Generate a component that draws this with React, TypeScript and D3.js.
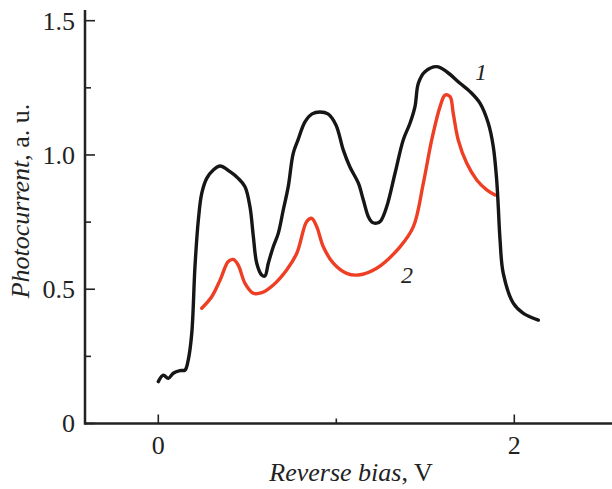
import React from "react";
import * as d3 from "d3";

const curve1X = [0, 0.028, 0.056, 0.084, 0.122, 0.15, 0.168, 0.188, 0.206, 0.225, 0.244, 0.272, 0.309, 0.347, 0.403, 0.449, 0.487, 0.515, 0.534, 0.553, 0.581, 0.599, 0.618, 0.646, 0.674, 0.702, 0.73, 0.758, 0.785, 0.824, 0.864, 0.908, 0.953, 0.998, 1.039, 1.076, 1.124, 1.152, 1.18, 1.2, 1.227, 1.25, 1.283, 1.33, 1.376, 1.414, 1.442, 1.461, 1.498, 1.564, 1.62, 1.695, 1.751, 1.807, 1.854, 1.882, 1.901, 1.91, 1.92, 1.938, 1.994, 2.051, 2.135];
const curve1Y = [0.156, 0.18, 0.168, 0.187, 0.197, 0.199, 0.236, 0.336, 0.584, 0.758, 0.857, 0.913, 0.944, 0.959, 0.938, 0.913, 0.882, 0.807, 0.696, 0.597, 0.553, 0.549, 0.597, 0.658, 0.708, 0.795, 0.882, 1.006, 1.056, 1.123, 1.153, 1.16, 1.153, 1.112, 1.019, 0.956, 0.895, 0.832, 0.77, 0.75, 0.746, 0.755, 0.807, 0.932, 1.056, 1.118, 1.18, 1.267, 1.31, 1.329, 1.31, 1.267, 1.236, 1.193, 1.118, 1.031, 0.907, 0.807, 0.683, 0.559, 0.448, 0.41, 0.385];

const curve2X = [0.244, 0.3, 0.347, 0.393, 0.421, 0.449, 0.487, 0.534, 0.581, 0.646, 0.721, 0.778, 0.834, 0.862, 0.89, 0.927, 0.983, 1.058, 1.124, 1.227, 1.358, 1.433, 1.489, 1.536, 1.583, 1.611, 1.639, 1.657, 1.685, 1.733, 1.789, 1.845, 1.892];
const curve2Y = [0.429, 0.472, 0.534, 0.603, 0.611, 0.59, 0.522, 0.485, 0.487, 0.516, 0.572, 0.634, 0.752, 0.764, 0.733, 0.658, 0.597, 0.559, 0.553, 0.578, 0.658, 0.733, 0.895, 1.056, 1.18, 1.223, 1.217, 1.155, 1.056, 0.969, 0.907, 0.87, 0.851];

const xMajorTicks = [0, 2];
const xMinorTicks = [1];
const yMajorTicks = [0, 0.5, 1.0, 1.5];
const yMinorTicks = [0.25, 0.75, 1.25];
const yTickLabels = ["0", "0.5", "1.0", "1.5"];

export default function App() {
  const W = 612, H = 489;
  const x = d3.scaleLinear().domain([0, 2]).range([158.3, 514.3]);
  const y = d3.scaleLinear().domain([0, 1.5]).range([423.5, 20.7]);
  const axisX0 = 85, axisX1 = 612, axisYTop = 10;
  const line = d3.line<[number, number]>().x(d => x(d[0])).y(d => y(d[1])).curve(d3.curveCatmullRom.alpha(0.5));
  const d1 = line(curve1X.map((v, i) => [v, curve1Y[i]]));
  const d2 = line(curve2X.map((v, i) => [v, curve2Y[i]]));
  const font = "'Liberation Serif', 'Times New Roman', serif";
  const fs = 26;
  const y0 = y(0);
  return (
    <svg width={W} height={H} style={{ position: "absolute", left: 0, top: 0, background: "#fff" }} fontFamily={font}>
      <rect x={0} y={0} width={W} height={H} fill="#fff" />
      {/* axes */}
      <line x1={axisX0} y1={y0} x2={axisX1} y2={y0} stroke="#222" strokeWidth={2.5} />
      <line x1={axisX0} y1={y0 + 1.2} x2={axisX0} y2={axisYTop} stroke="#222" strokeWidth={2.5} />
      {yMajorTicks.map((t, i) => (
        <g key={"ym" + t}>
          <line x1={axisX0} x2={axisX0 + 10} y1={y(t)} y2={y(t)} stroke="#222" strokeWidth={1.6} />
          <text x={75} y={y(t) + 8.8} textAnchor="end" fontSize={fs} fill="#222">{yTickLabels[i]}</text>
        </g>
      ))}
      {yMinorTicks.map(t => (
        <line key={"yn" + t} x1={axisX0} x2={axisX0 + 6} y1={y(t)} y2={y(t)} stroke="#222" strokeWidth={1.6} />
      ))}
      {xMajorTicks.map(t => (
        <g key={"xm" + t}>
          <line x1={x(t)} x2={x(t)} y1={y0} y2={y0 - 9} stroke="#222" strokeWidth={1.6} />
          <text x={x(t)} y={453.5} textAnchor="middle" fontSize={fs} fill="#222">{String(t)}</text>
        </g>
      ))}
      {xMinorTicks.map(t => (
        <line key={"xn" + t} x1={x(t)} x2={x(t)} y1={y0} y2={y0 - 5} stroke="#222" strokeWidth={1.6} />
      ))}
      {/* titles */}
      <text x={351} y={481} textAnchor="middle" fontSize={fs} fill="#222">
        <tspan fontStyle="italic">Reverse bias</tspan><tspan>, V</tspan>
      </text>
      <text transform="translate(29,201) rotate(-90)" textAnchor="middle" fontSize={fs} fill="#222">
        <tspan fontStyle="italic">Photocurrent</tspan><tspan>, a. u.</tspan>
      </text>
      {/* curves */}
      <path d={d2 || ""} fill="none" stroke="#ee3f24" strokeWidth={3.4} strokeLinecap="round" strokeLinejoin="round" />
      <path d={d1 || ""} fill="none" stroke="#161616" strokeWidth={3.4} strokeLinecap="round" strokeLinejoin="round" />
      {/* labels */}
      <text x={481} y={80} textAnchor="middle" fontSize={24} fontStyle="italic" fill="#222">1</text>
      <text x={407} y={283} textAnchor="middle" fontSize={24} fontStyle="italic" fill="#222">2</text>
    </svg>
  );
}
